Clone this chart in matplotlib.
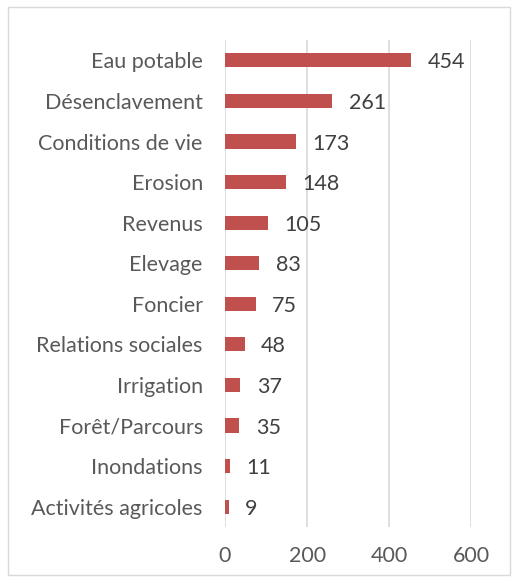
import matplotlib.pyplot as plt
from matplotlib.patches import Rectangle

categories = ["Eau potable", "Désenclavement", "Conditions de vie", "Erosion",
              "Revenus", "Elevage", "Foncier", "Relations sociales",
              "Irrigation", "Forêt/Parcours", "Inondations", "Activités agricoles"]
values = [454, 261, 173, 148, 105, 83, 75, 48, 37, 35, 11, 9]
xticks = [0, 200, 400, 600]

plt.rcParams['font.family'] = ['Lato', 'DejaVu Sans']
texte = '#595959'

fig = plt.figure(figsize=(5.15, 5.81), dpi=100)
ax = fig.add_axes([0.437, 0.093, 0.478, 0.838])

pos = list(range(len(categories)))[::-1]
ax.barh(pos, values, height=0.35, color='#C0504D', zorder=3)
for p, v in zip(pos, values):
    ax.text(v + 40, p - 0.05, str(v), va='center', ha='left', fontsize=15.5, color='#404040')

ax.set_xlim(0, 600)
ax.set_ylim(-0.5, len(categories) - 0.5)
ax.set_xticks(xticks)
ax.set_yticks(pos)
ax.set_yticklabels(categories)
ax.tick_params(axis='both', length=0, labelsize=15.5, labelcolor=texte)
ax.tick_params(axis='y', pad=16)
ax.tick_params(axis='x', pad=14)
ax.xaxis.grid(True, color='#D9D9D9', linewidth=1.2, zorder=0)
for s in ax.spines.values():
    s.set_visible(False)

fig.patches.append(Rectangle((8 / 515, 6 / 581), 502 / 515, 568 / 581,
                             transform=fig.transFigure, fill=False,
                             edgecolor='#D9D9D9', linewidth=1))

fig.savefig('out.png', dpi=100)
